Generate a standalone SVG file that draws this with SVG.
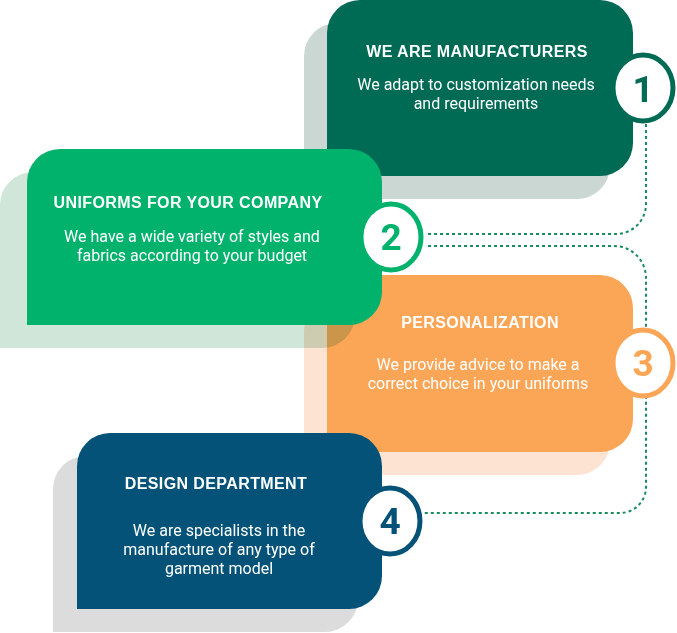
<svg xmlns="http://www.w3.org/2000/svg" width="677" height="633" viewBox="0 0 677 633">
<defs>
<style>
.title{font-family:"Liberation Sans",Arial,sans-serif;font-weight:700;font-size:16px;letter-spacing:0.4px;fill:#ffffff;text-anchor:middle}
.body{font-family:Roboto,"Liberation Sans",sans-serif;font-size:16px;fill:#ffffff;text-anchor:middle}
.num{font-family:Roboto,"Liberation Sans",sans-serif;font-weight:700;font-size:37px;text-anchor:middle}
.ring{fill:#ffffff;stroke-width:5}
.conn{fill:none;stroke:#1a8a5f;stroke-width:2;stroke-dasharray:3 3}
</style>
</defs>
<rect width="677" height="633" fill="#ffffff"/>

<g id="node1">
<path d="M304,56 A33,33 0 0 1 337,23 H577 A33,33 0 0 1 610,56 V166 A33,33 0 0 1 577,199 H304 Z" fill="#cad7d3"/>
<path d="M327,33 A33,33 0 0 1 360,0 H600 A33,33 0 0 1 633,33 V143 A33,33 0 0 1 600,176 H327 Z" fill="#006b55"/>
<text class="title" x="477" y="57">WE ARE MANUFACTURERS</text>
<text class="body" x="476" y="90">We adapt to customization needs</text>
<text class="body" x="476" y="109">and requirements</text>
</g>

<g id="node3">
<path d="M304,331 A33,33 0 0 1 337,298 H577 A33,33 0 0 1 610,331 V442 A33,33 0 0 1 577,475 H304 Z" fill="#fde3d1"/>
<path d="M327,308 A33,33 0 0 1 360,275 H600 A33,33 0 0 1 633,308 V419 A33,33 0 0 1 600,452 H327 Z" fill="#fba557"/>
<text class="title" x="480" y="328">PERSONALIZATION</text>
<text class="body" x="478" y="370">We provide advice to make a</text>
<text class="body" x="478" y="389">correct choice in your uniforms</text>
</g>

<g id="node2">
<path d="M0,205 A33,33 0 0 1 33,172 H322 A33,33 0 0 1 355,205 V315 A33,33 0 0 1 322,348 H0 Z" fill="#cfe6d8" style="mix-blend-mode:multiply"/>
<path d="M27,182 A33,33 0 0 1 60,149 H349 A33,33 0 0 1 382,182 V292 A33,33 0 0 1 349,325 H27 Z" fill="#00b26c"/>
<text class="title" x="188" y="208">UNIFORMS FOR YOUR COMPANY</text>
<text class="body" x="192" y="242">We have a wide variety of styles and</text>
<text class="body" x="192" y="261">fabrics according to your budget</text>
</g>

<g id="node4">
<path d="M53,489 A33,33 0 0 1 86,456 H325 A33,33 0 0 1 358,489 V599 A33,33 0 0 1 325,632 H53 Z" fill="#dcdcdc" style="mix-blend-mode:multiply"/>
<path d="M77,466 A33,33 0 0 1 110,433 H349 A33,33 0 0 1 382,466 V576 A33,33 0 0 1 349,609 H77 Z" fill="#045277"/>
<text class="title" x="216" y="489">DESIGN DEPARTMENT</text>
<text class="body" x="219" y="536">We are specialists in the</text>
<text class="body" x="219" y="555">manufacture of any type of</text>
<text class="body" x="219" y="574">garment model</text>
</g>

<g id="connectors">
<path class="conn" d="M428,234 H616 A30,30 0 0 0 646,204 V120"/>
<path class="conn" d="M428,246 H614 A32,32 0 0 1 646,278 V487 A26,26 0 0 1 620,513 H422"/>
</g>

<g id="badge1">
<ellipse class="ring" cx="643" cy="88" rx="30" ry="33" stroke="#006b55"/>
<text class="num" x="643" y="102" fill="#006b55">1</text>
</g>
<g id="badge2">
<ellipse class="ring" cx="391" cy="237" rx="30" ry="33" stroke="#00b26c"/>
<text class="num" x="391" y="250" fill="#00b26c">2</text>
</g>
<g id="badge3">
<ellipse class="ring" cx="643" cy="363" rx="30" ry="33" stroke="#fba557"/>
<text class="num" x="643" y="376" fill="#fba557">3</text>
</g>
<g id="badge4">
<ellipse class="ring" cx="390" cy="521" rx="30" ry="33" stroke="#045277"/>
<text class="num" x="390" y="534" fill="#045277">4</text>
</g>
</svg>
